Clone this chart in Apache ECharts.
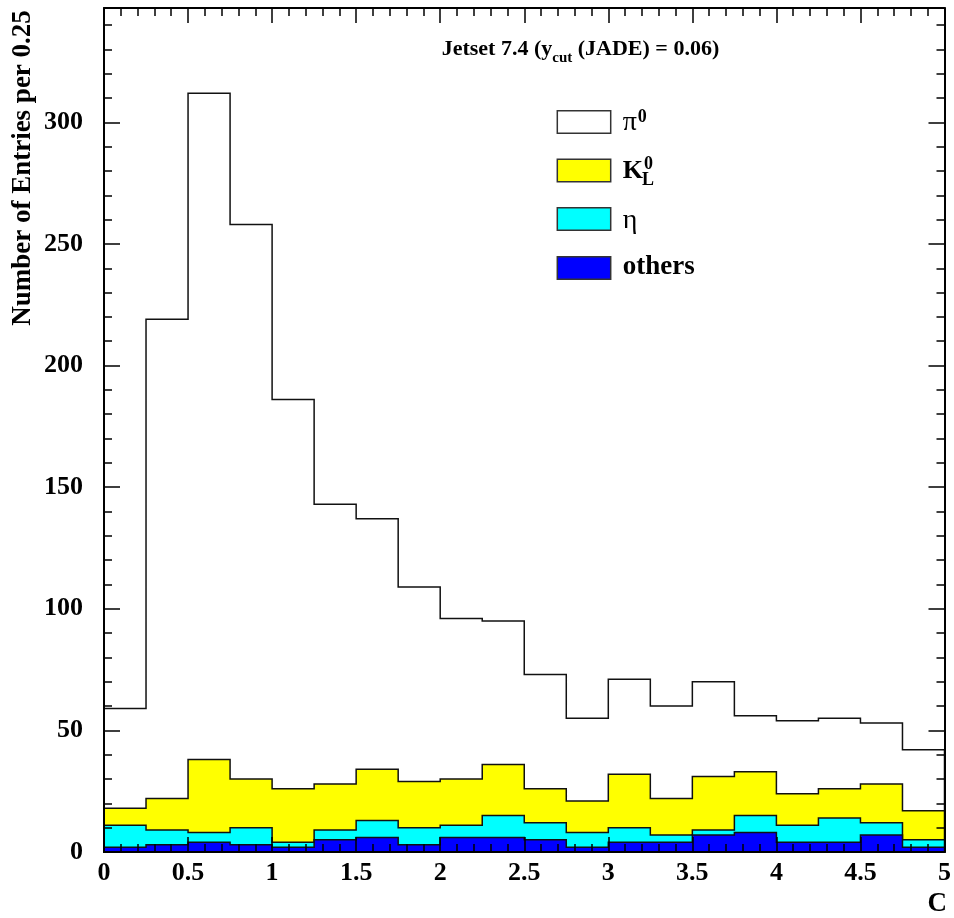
<!DOCTYPE html>
<html><head><meta charset="utf-8">
<script src="https://cdn.jsdelivr.net/npm/echarts@6/dist/echarts.min.js"></script>
<style>html,body{margin:0;padding:0;background:#fff}#c{width:954px;height:918px}</style>
</head><body><div id="c"></div>
<script>
// ---- data (counts per bin of width 0.25 in C, from 0 to 5) ----
const binStart = 0;
const binWidth = 0.25;
const pi0    = [41,197,274,228,160,115,103,80,66,59,47,34,39,38,39,23,30,29,25,25];
const k0L    = [7,13,30,20,22,19,21,19,19,21,14,13,22,15,22,18,13,12,16,12];
const eta    = [9,6,4,7,2,4,7,7,5,9,7,6,6,3,2,7,7,10,5,3];
const others = [2,3,4,3,2,5,6,3,6,6,5,2,4,4,7,8,4,4,7,2];
const xMin = 0, xMax = 5, xInterval = 0.5;
const yMin = 0, yMax = 347, yInterval = 50;

// stacked cumulative tops
const cumOthers = others.slice();
const cumEta = cumOthers.map((v,i)=>v+eta[i]);
const cumK = cumEta.map((v,i)=>v+k0L[i]);
const cumPi = cumK.map((v,i)=>v+pi0[i]);

const layers = [
  {name:'π0', top:cumPi, color:'#ffffff'},
  {name:'K0L', top:cumK, color:'#ffff00'},
  {name:'η', top:cumEta, color:'#00ffff'},
  {name:'others', top:cumOthers, color:'#0000ff'}
];

const SERIF = '"Liberation Serif","Times New Roman",serif';
const chart = echarts.init(document.getElementById('c'), null, {renderer:'canvas'});

function stepSeries(layer){
  return {
    type:'custom', name:layer.name, data:[[binStart,0]], encode:{x:0,y:1},
    renderItem:function(params, api){
      const pts=[api.coord([binStart,0])];
      layer.top.forEach((v,i)=>{
        pts.push(api.coord([binStart+i*binWidth, v]));
        pts.push(api.coord([binStart+(i+1)*binWidth, v]));
      });
      pts.push(api.coord([binStart+layer.top.length*binWidth, 0]));
      return {type:'polygon', shape:{points:pts},
        style:{fill:layer.color, stroke:'#111', lineWidth:1.5}};
    }
  };
}

// text helpers
const mctx = document.createElement('canvas').getContext('2d');
function measure(text, font){ mctx.font = font; return mctx.measureText(text).width; }
function txt(text, x, baseline, weight, size){
  const font = weight+' '+size+'px '+SERIF;
  return {type:'text', x:x, y:baseline-0.3*size, z:100,
    style:{text:text, font:font, fill:'#000', textAlign:'left', textVerticalAlign:'middle'}};
}
const graphics = [];
// title
(function(){
  let x = 441.7;
  const parts = [['Jetset 7.4 (y','bold',22,56],['cut','bold',15,63],[' (JADE) = 0.06)','bold',22,56]];
  parts.forEach(p=>{ graphics.push(txt(p[0],x,p[3],p[1],p[2])); x += measure(p[0], p[1]+' '+p[2]+'px '+SERIF); });
})();
// legend boxes
const legendY = [110.7,159.3,207.7,256.7];
layers.forEach((l,i)=>{
  graphics.push({type:'rect', z:100, shape:{x:557.3,y:legendY[i],width:53.4,height:22.5},
    style:{fill:l.color, stroke:'#333', lineWidth:1.5}});
});
// legend texts
(function(){
  const lx = 622.7;
  graphics.push(txt('π', lx, 131.5, 'normal', 28));
  const pw = measure('π','normal 28px '+SERIF);
  graphics.push(txt('0', lx+pw+1, 122.5, 'bold', 18));
  graphics.push(txt('K', lx, 179.3, 'bold', 26));
  const kw = measure('K','bold 26px '+SERIF);
  graphics.push(txt('L', lx+kw-1, 185.5, 'bold', 18));
  graphics.push(txt('0', lx+kw+1, 170, 'bold', 18));
  graphics.push(txt('η', lx, 229, 'normal', 28));
  graphics.push(txt('others', lx, 275, 'bold', 27));
})();
// axis titles
graphics.push({type:'text', x:23, y:168, rotation:Math.PI/2, z:100,
  style:{text:'Number of Entries per 0.25', font:'bold 27px '+SERIF, fill:'#000', textAlign:'center', textVerticalAlign:'middle'}});
graphics.push({type:'text', x:947, y:904, z:100,
  style:{text:'C', font:'bold 27px '+SERIF, fill:'#000', textAlign:'right', textVerticalAlign:'middle'}});

const axisLineStyle = {color:'#000', width:2};
function xAx(pos, showLabel){
  return {type:'value', min:xMin, max:xMax, interval:xInterval, position:pos, z:10,
    axisLine:{show:true, onZero:false, lineStyle:axisLineStyle},
    axisTick:{show:true, inside:true, length:15, lineStyle:{color:'#000', width:1.5}},
    minorTick:{show:true, splitNumber:5, length:8, lineStyle:{color:'#000', width:1.5}},
    splitLine:{show:false}, minorSplitLine:{show:false},
    axisLabel:{show:showLabel, fontFamily:SERIF, fontWeight:'bold', fontSize:26, color:'#000', margin:8}};
}
function yAx(pos, showLabel){
  return {type:'value', min:yMin, max:yMax, interval:yInterval, position:pos, z:10,
    axisLine:{show:true, onZero:false, lineStyle:axisLineStyle},
    axisTick:{show:true, inside:true, length:16, lineStyle:{color:'#000', width:1.5}},
    minorTick:{show:true, splitNumber:5, length:8, lineStyle:{color:'#000', width:1.5}},
    splitLine:{show:false}, minorSplitLine:{show:false},
    axisLabel:{show:showLabel, showMaxLabel:false, fontFamily:SERIF, fontWeight:'bold', fontSize:26, color:'#000', margin:21,
      formatter:function(v){ return (v % yInterval === 0) ? String(v) : ''; }}};
}

chart.setOption({
  animation:false,
  backgroundColor:'#fff',
  grid:{left:104, right:6, top:8, bottom:66, containLabel:false},
  xAxis:[xAx('bottom', true), xAx('top', false)],
  yAxis:[yAx('left', true), yAx('right', false)],
  series:layers.map(stepSeries),
  graphic:graphics
});
</script></body></html>
